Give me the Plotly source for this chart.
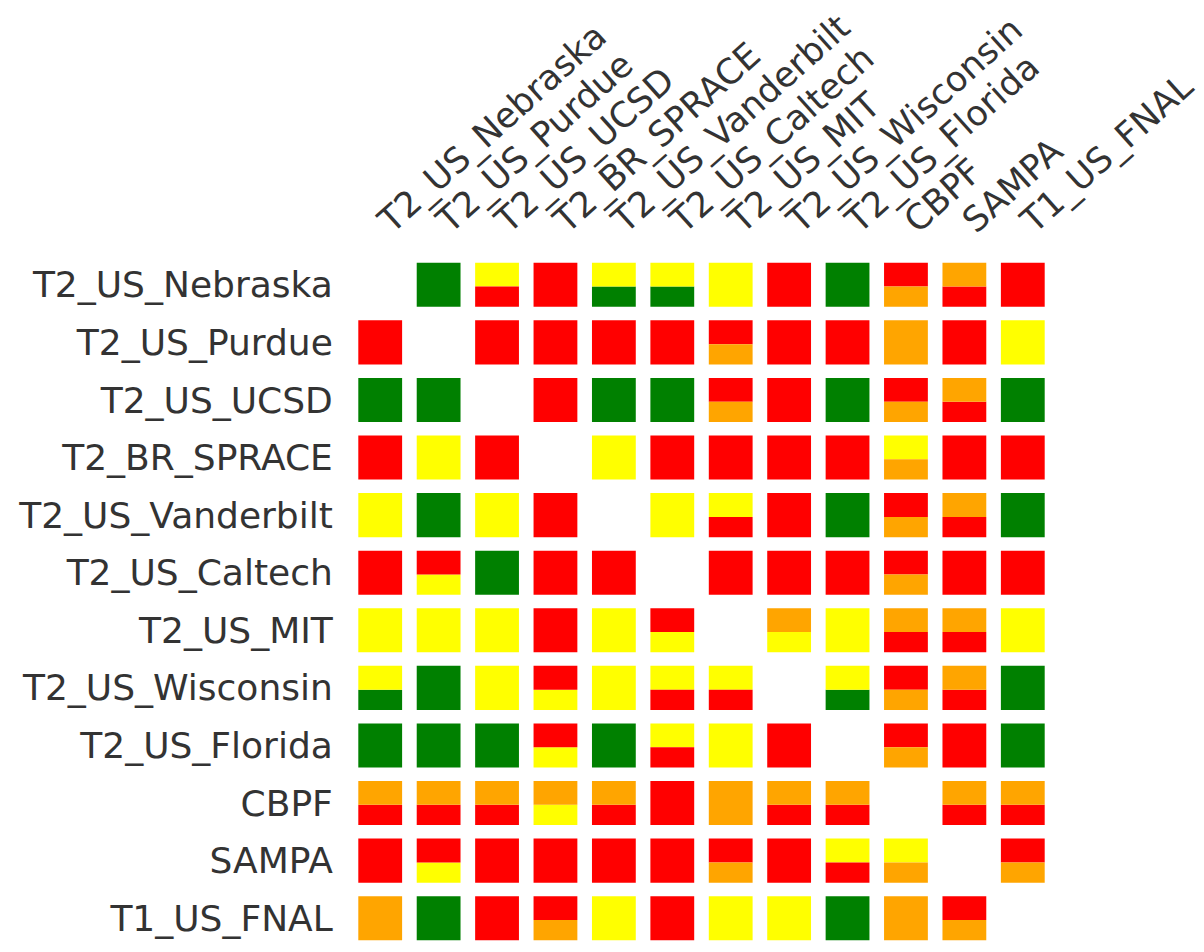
import plotly.graph_objects as go

sites = ["T2_US_Nebraska", "T2_US_Purdue", "T2_US_UCSD", "T2_BR_SPRACE",
         "T2_US_Vanderbilt", "T2_US_Caltech", "T2_US_MIT", "T2_US_Wisconsin",
         "T2_US_Florida", "CBPF", "SAMPA", "T1_US_FNAL"]

# status of the top half / bottom half of each cell (row = source, col = destination)
top = [
    ["-", "G", "Y", "R", "Y", "Y", "Y", "R", "G", "R", "O", "R"],
    ["R", "-", "R", "R", "R", "R", "R", "R", "R", "O", "R", "Y"],
    ["G", "G", "-", "R", "G", "G", "R", "R", "G", "R", "O", "G"],
    ["R", "Y", "R", "-", "Y", "R", "R", "R", "R", "Y", "R", "R"],
    ["Y", "G", "Y", "R", "-", "Y", "Y", "R", "G", "R", "O", "G"],
    ["R", "R", "G", "R", "R", "-", "R", "R", "R", "R", "R", "R"],
    ["Y", "Y", "Y", "R", "Y", "R", "-", "O", "Y", "O", "O", "Y"],
    ["Y", "G", "Y", "R", "Y", "Y", "Y", "-", "Y", "R", "O", "G"],
    ["G", "G", "G", "R", "G", "Y", "Y", "R", "-", "R", "R", "G"],
    ["O", "O", "O", "O", "O", "R", "O", "O", "O", "-", "O", "O"],
    ["R", "R", "R", "R", "R", "R", "R", "R", "Y", "Y", "-", "R"],
    ["O", "G", "R", "R", "Y", "R", "Y", "Y", "G", "O", "R", "-"],
]
bottom = [
    ["-", "G", "R", "R", "G", "G", "Y", "R", "G", "O", "R", "R"],
    ["R", "-", "R", "R", "R", "R", "O", "R", "R", "O", "R", "Y"],
    ["G", "G", "-", "R", "G", "G", "O", "R", "G", "O", "R", "G"],
    ["R", "Y", "R", "-", "Y", "R", "R", "R", "R", "O", "R", "R"],
    ["Y", "G", "Y", "R", "-", "Y", "R", "R", "G", "O", "R", "G"],
    ["R", "Y", "G", "R", "R", "-", "R", "R", "R", "O", "R", "R"],
    ["Y", "Y", "Y", "R", "Y", "Y", "-", "Y", "Y", "R", "R", "Y"],
    ["G", "G", "Y", "Y", "Y", "R", "R", "-", "G", "O", "R", "G"],
    ["G", "G", "G", "Y", "G", "R", "Y", "R", "-", "O", "R", "G"],
    ["R", "R", "R", "Y", "R", "R", "O", "R", "R", "-", "R", "R"],
    ["R", "Y", "R", "R", "R", "R", "O", "R", "R", "O", "-", "O"],
    ["O", "G", "R", "O", "Y", "R", "Y", "Y", "G", "O", "O", "-"],
]

status_colors = {"G": "#008000", "Y": "#FFFF00", "R": "#FF0000", "O": "#FFA500"}

CELL_W = 0.75
CELL_H = 0.765
TOP_FRAC = 0.54

fig = go.Figure()
for code, color in status_colors.items():
    xs, bases, lens = [], [], []
    for i in range(len(sites)):
        for j in range(len(sites)):
            y0 = i - CELL_H / 2
            ht = CELL_H * TOP_FRAC
            if top[i][j] == code and bottom[i][j] == code:
                xs.append(j); bases.append(y0); lens.append(CELL_H)
            elif top[i][j] == code:
                xs.append(j); bases.append(y0); lens.append(ht)
            elif bottom[i][j] == code:
                xs.append(j); bases.append(y0 + ht); lens.append(CELL_H - ht)
    fig.add_trace(go.Bar(x=xs, y=lens, base=bases, width=CELL_W,
                         marker=dict(color=color, line=dict(width=0)),
                         hoverinfo="skip", showlegend=False))

font = dict(family="DejaVu Sans, Verdana, sans-serif", size=36, color="#333333")
colfont = dict(family="DejaVu Sans, Verdana, sans-serif", size=35, color="#333333")

fig.update_layout(
    width=1196, height=944,
    margin=dict(l=343, r=152, t=248, b=5),
    barmode="overlay",
    plot_bgcolor="white", paper_bgcolor="white",
    xaxis=dict(range=[-0.5, 11.5], side="top", tickmode="array",
               tickvals=list(range(len(sites))), ticktext=sites,
               tickangle=-42, showgrid=False, zeroline=False, showline=False,
               ticks="outside", ticklen=2, tickcolor="rgba(0,0,0,0)",
               tickfont=colfont, automargin=False),
    yaxis=dict(range=[11.5, -0.5], tickmode="array",
               tickvals=list(range(len(sites))), ticktext=sites,
               showgrid=False, zeroline=False, showline=False,
               ticks="outside", ticklen=10, tickcolor="rgba(0,0,0,0)",
               tickfont=font, automargin=False),
)

fig.write_html("out.html")
